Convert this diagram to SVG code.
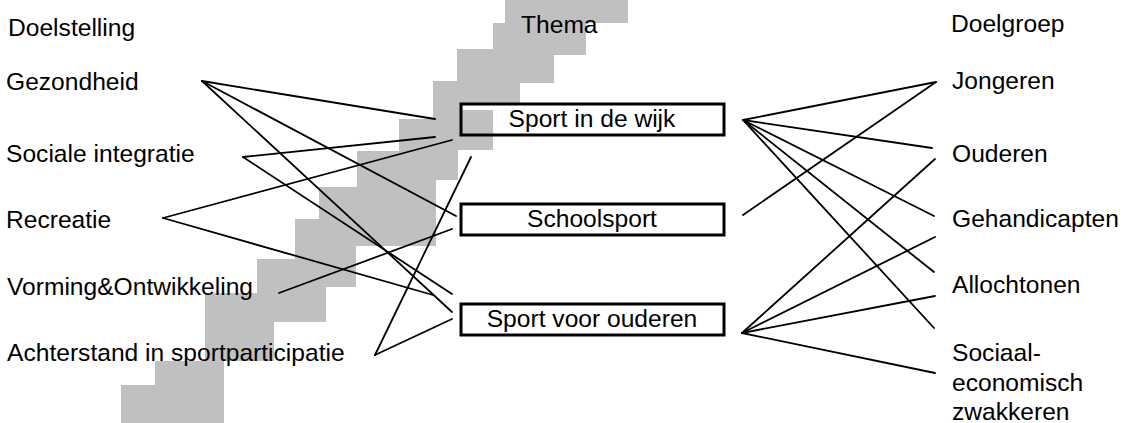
<svg xmlns="http://www.w3.org/2000/svg" width="1123" height="423" viewBox="0 0 1123 423">
  <style>
    .lbl { font-family: "Liberation Sans", Arial, sans-serif; font-size: 24.6px; fill: #000; }
    .mid { text-anchor: middle; }
    .box { fill: none; stroke: #000; stroke-width: 3; }
    .bg { fill: #fff; stroke: none; }
    .step { fill: #c0c0c0; stroke: none; }
    .conn line { stroke: #000; stroke-width: 1.8; stroke-linecap: round; }
  </style>

  <!-- grey staircase running from bottom-left up to top-right -->
  <polygon id="staircase" class="step" points="505,0 505,23 493,23 493,49 457,49 457,81 433,81 433,119 399,119 399,151 357,151 357,187 319,187 319,219 295,219 295,259 257,259 257,293 205,293 205,361 155,361 155,385 121,385 121,423 224,423 224,361 274,361 274,322 326,322 326,287 356,287 356,246 436,246 436,180 458,180 458,150 493,150 493,110 520,110 520,83 554,83 554,55 586,55 586,23 628,23 628,0"/>

  <!-- column headings -->
  <g id="headings">
    <text class="lbl" x="8" y="36">Doelstelling</text>
    <text class="lbl" x="521" y="33">Thema</text>
    <text class="lbl" x="951" y="32">Doelgroep</text>
  </g>

  <!-- goals (left column) -->
  <g id="goal-gezondheid"><text class="lbl" x="6" y="90">Gezondheid</text></g>
  <g id="goal-sociale-integratie"><text class="lbl" x="6" y="162">Sociale integratie</text></g>
  <g id="goal-recreatie"><text class="lbl" x="6" y="228">Recreatie</text></g>
  <g id="goal-vorming"><text class="lbl" x="7" y="295">Vorming&amp;Ontwikkeling</text></g>
  <g id="goal-achterstand"><text class="lbl" x="7" y="361">Achterstand in sportparticipatie</text></g>

  <!-- themes (middle column) -->
  <g id="theme-sport-in-de-wijk">
    <rect class="bg" x="461" y="104" width="263" height="31"/>
    <rect class="step" x="461" y="110" width="32" height="25"/>
    <rect class="box" x="461" y="104" width="263" height="31"/>
    <text class="lbl mid" x="592" y="127">Sport in de wijk</text>
  </g>
  <g id="theme-schoolsport">
    <rect class="bg" x="461" y="204" width="263" height="31"/>
    <rect class="box" x="461" y="204" width="263" height="31"/>
    <text class="lbl mid" x="592" y="227">Schoolsport</text>
  </g>
  <g id="theme-sport-voor-ouderen">
    <rect class="bg" x="461" y="304" width="263" height="31"/>
    <rect class="box" x="461" y="304" width="263" height="31"/>
    <text class="lbl mid" x="592" y="327">Sport voor ouderen</text>
  </g>

  <!-- target groups (right column) -->
  <g id="group-jongeren"><text class="lbl" x="952" y="89">Jongeren</text></g>
  <g id="group-ouderen"><text class="lbl" x="952" y="162">Ouderen</text></g>
  <g id="group-gehandicapten"><text class="lbl" x="952" y="227">Gehandicapten</text></g>
  <g id="group-allochtonen"><text class="lbl" x="952" y="293">Allochtonen</text></g>
  <g id="group-sociaal-economisch">
    <text class="lbl" x="952" y="361">Sociaal-</text>
    <text class="lbl" x="952" y="391">economisch</text>
    <text class="lbl" x="952" y="420">zwakkeren</text>
  </g>

  <!-- connectors -->
  <g id="connectors" class="conn">
    <!-- goals to themes -->
    <line x1="202" y1="81" x2="435" y2="119"/>
    <line x1="202" y1="81" x2="456" y2="216"/>
    <line x1="202" y1="81" x2="452" y2="312"/>
    <line x1="243" y1="157" x2="435" y2="137"/>
    <line x1="243" y1="157" x2="452" y2="294"/>
    <line x1="163" y1="218" x2="452" y2="140"/>
    <line x1="163" y1="218" x2="433" y2="295"/>
    <line x1="279" y1="293" x2="452" y2="229"/>
    <line x1="375" y1="355" x2="471" y2="157"/>
    <line x1="375" y1="355" x2="452" y2="319"/>
    <!-- themes to target groups -->
    <line x1="743" y1="120" x2="936" y2="82"/>
    <line x1="743" y1="120" x2="932" y2="148"/>
    <line x1="743" y1="120" x2="934" y2="216"/>
    <line x1="743" y1="120" x2="934" y2="272"/>
    <line x1="743" y1="120" x2="934" y2="328"/>
    <line x1="743" y1="215" x2="936" y2="82"/>
    <line x1="742" y1="333" x2="935" y2="159"/>
    <line x1="742" y1="333" x2="935" y2="237"/>
    <line x1="742" y1="333" x2="935" y2="296"/>
    <line x1="742" y1="333" x2="935" y2="373"/>
  </g>
</svg>
